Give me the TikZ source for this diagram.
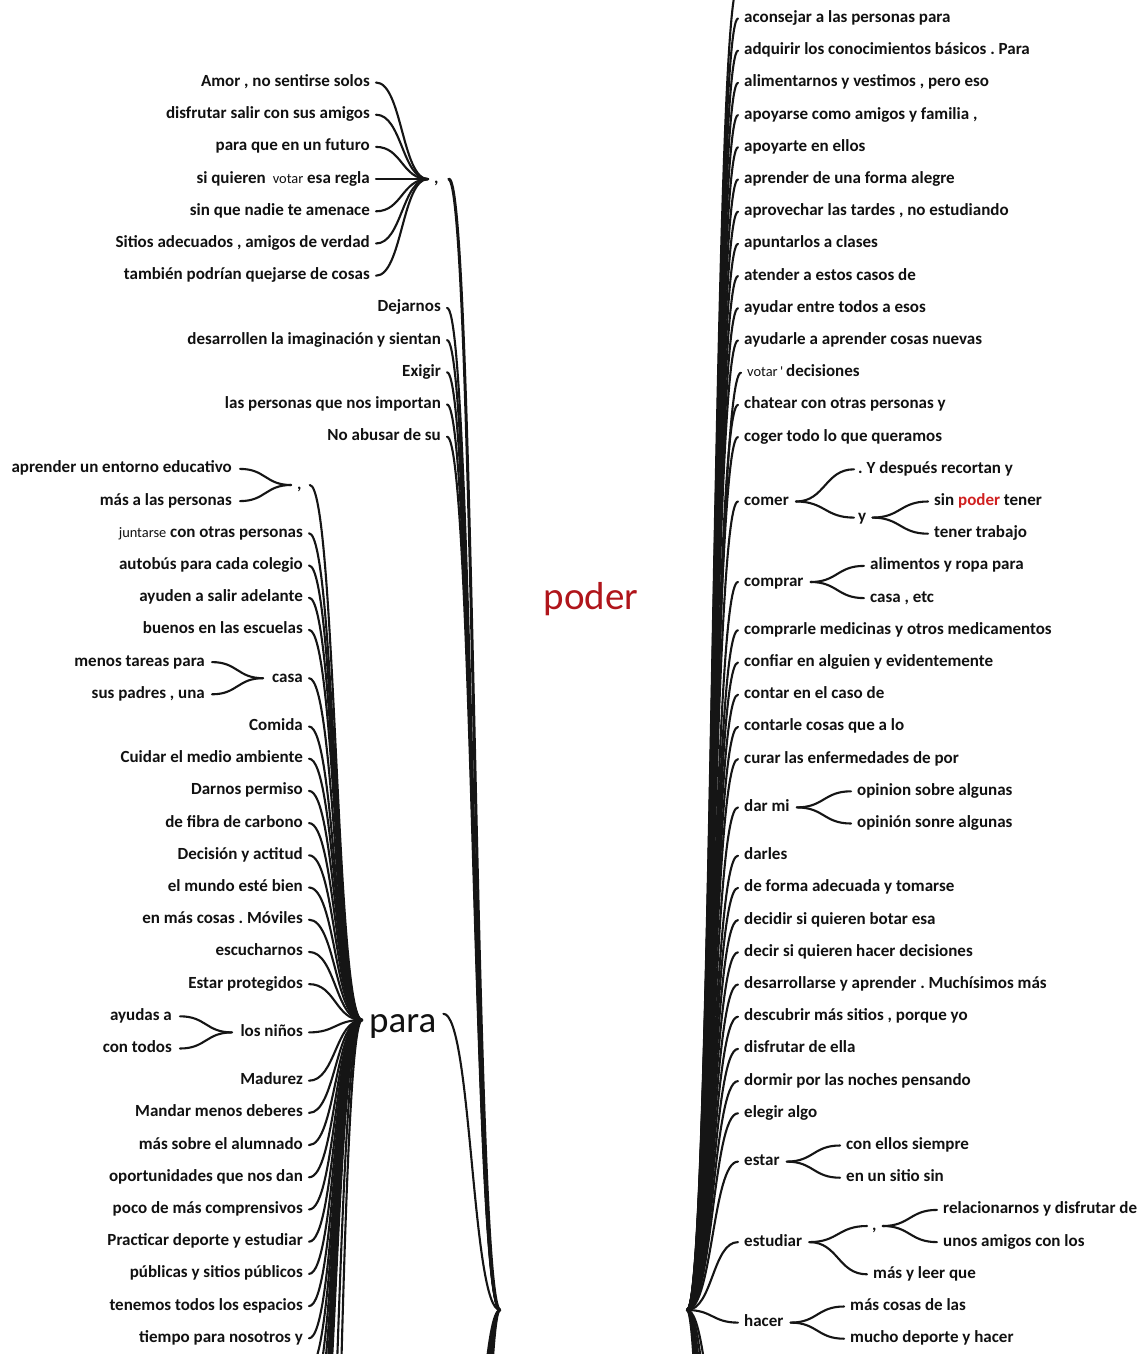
\documentclass[tikz,border=0pt]{standalone}
\usepackage{fontspec}
\usetikzlibrary{calc}
\newfontfamily\carl{Carlito}
\frenchspacing
\newcommand\wf{\carl\bfseries\fontsize{17}{20}\selectfont}
\newcommand\smf{\carl\mdseries\fontsize{14.4}{16}\selectfont}
\definecolor{ln}{HTML}{151515}
\definecolor{tx}{HTML}{111111}
\definecolor{pod}{HTML}{B0151B}
\definecolor{podb}{HTML}{D02020}
\newcommand\LY[1]{82.5+32.2*#1}
\newcommand\RY[1]{18.5+32.2*#1}
\newcommand\lk[3][]{\draw[lk,#1] let \p1=(#2), \p2=(#3), \n1={0.5*(\x1+\x2)} in (\p1) .. controls (\n1,\y1) and (\n1,\y2) .. (\p2);}
\tikzset{
  w/.style={inner sep=0pt, text height=12pt, text depth=4pt, font=\wf, text=tx},
  L/.style={w, anchor=east},
  R/.style={w, anchor=west},
  lk/.style={draw=ln, line width=2.1pt, line cap=round}
}
\begin{document}
\begin{tikzpicture}[x=1pt,y=-1pt]
\fill[white] (0,0) rectangle (1142,1354);
\clip (0,0) rectangle (1142,1354);

% ---------- junction coordinates ----------
\coordinate (rootL) at (500,1310);
\coordinate (rootR) at (687,1310);
\coordinate (j1) at (428,{\LY{3}});
\coordinate (j2) at (291,{\LY{12.5}});
\coordinate (j3) at (263,{\LY{18.5}});
\coordinate (j4) at (232,{\LY{29.5}});
\coordinate (jp) at (362,1020);

% ---------- centre label ----------
\node[anchor=base, inner sep=0pt, font=\carl\fontsize{39}{42}\selectfont, text=pod] (poder) at (591,609) {poder};

% ---------- left: group 1 ----------
\node[L] (l0) at (370,{\LY{0}}) {Amor , no sentirse solos};
\node[L] (l1) at (370,{\LY{1}}) {disfrutar salir con sus amigos};
\node[L] (l2) at (370,{\LY{2}}) {para que en un futuro};
\node[L] (l3) at (370,{\LY{3}}) {si quieren\hspace{7pt}{\smf votar} esa regla};
\node[L] (l4) at (370,{\LY{4}}) {sin que nadie te amenace};
\node[L] (l5) at (370,{\LY{5}}) {Sitios adecuados , amigos de verdad};
\node[L] (l6) at (370,{\LY{6}}) {también podrían quejarse de cosas};
\node[R] (c1) at (434,{\LY{3}}) {,};

% ---------- left: root children ----------
\node[L] (l7) at (441,{\LY{7}}) {Dejarnos};
\node[L] (l8) at (441,{\LY{8}}) {desarrollen la imaginación y sientan};
\node[L] (l9) at (441,{\LY{9}}) {Exigir};
\node[L] (l10) at (441,{\LY{10}}) {las personas que nos importan};
\node[L] (l11) at (441,{\LY{11}}) {No abusar de su};

% ---------- left: para subtree ----------
\node[L] (l12) at (232,{\LY{12}}) {aprender un entorno educativo};
\node[L] (l13) at (232,{\LY{13}}) {más a las personas};
\node[R] (c2) at (297,{\LY{12.5}}) {,};
\node[L] (l14) at (303,{\LY{14}}) {{\smf juntarse} con otras personas};
\node[L] (l15) at (303,{\LY{15}}) {autobús para cada colegio};
\node[L] (l16) at (303,{\LY{16}}) {ayuden a salir adelante};
\node[L] (l17) at (303,{\LY{17}}) {buenos en las escuelas};
\node[L] (l18) at (205,{\LY{18}}) {menos tareas para};
\node[L] (l19) at (205,{\LY{19}}) {sus padres , una};
\node[L] (casa) at (303,{\LY{18.5}}) {casa};
\node[L] (l20) at (303,{\LY{20}}) {Comida};
\node[L] (l21) at (303,{\LY{21}}) {Cuidar el medio ambiente};
\node[L] (l22) at (303,{\LY{22}}) {Darnos permiso};
\node[L] (l23) at (303,{\LY{23}}) {de fibra de carbono};
\node[L] (l24) at (303,{\LY{24}}) {Decisión y actitud};
\node[L] (l25) at (303,{\LY{25}}) {el mundo esté bien};
\node[L] (l26) at (303,{\LY{26}}) {en más cosas . Móviles};
\node[L] (l27) at (303,{\LY{27}}) {escucharnos};
\node[L] (l28) at (303,{\LY{28}}) {Estar protegidos};
\node[L] (l29) at (172,{\LY{29}}) {ayudas a};
\node[L] (l30) at (172,{\LY{30}}) {con todos};
\node[L] (ninos) at (303,{\LY{29.5}}) {los niños};
\node[L] (l31) at (303,{\LY{31}}) {Madurez};
\node[L] (l32) at (303,{\LY{32}}) {Mandar menos deberes};
\node[L] (l33) at (303,{\LY{33}}) {más sobre el alumnado};
\node[L] (l34) at (303,{\LY{34}}) {oportunidades que nos dan};
\node[L] (l35) at (303,{\LY{35}}) {poco de más comprensivos};
\node[L] (l36) at (303,{\LY{36}}) {Practicar deporte y estudiar};
\node[L] (l37) at (303,{\LY{37}}) {públicas y sitios públicos};
\node[L] (l38) at (303,{\LY{38}}) {tenemos todos los espacios};
\node[L] (l39) at (303,{\LY{39}}) {tiempo para nosotros y};
\node[anchor=base west, inner sep=0pt, font=\carl\fontsize{37}{40}\selectfont, text=tx] (para) at (369,1032) {para};

% ---------- right ----------
\node[R] (r0) at (744,{\RY{0}}) {aconsejar a las personas para};
\node[R] (r1) at (744,{\RY{1}}) {adquirir los conocimientos básicos . Para};
\node[R] (r2) at (744,{\RY{2}}) {alimentarnos y vestimos , pero eso};
\node[R] (r3) at (744,{\RY{3}}) {apoyarse como amigos y familia ,};
\node[R] (r4) at (744,{\RY{4}}) {apoyarte en ellos};
\node[R] (r5) at (744,{\RY{5}}) {aprender de una forma alegre};
\node[R] (r6) at (744,{\RY{6}}) {aprovechar las tardes , no estudiando};
\node[R] (r7) at (744,{\RY{7}}) {apuntarlos a clases};
\node[R] (r8) at (744,{\RY{8}}) {atender a estos casos de};
\node[R] (r9) at (744,{\RY{9}}) {ayudar entre todos a esos};
\node[R] (r10) at (744,{\RY{10}}) {ayudarle a aprender cosas nuevas};
\node[R] (r11) at (747,{\RY{11}}) {{\smf votar\,'}\,decisiones};
\node[R] (r12) at (744,{\RY{12}}) {chatear con otras personas y};
\node[R] (r13) at (744,{\RY{13}}) {coger todo lo que queramos};
\node[R] (comer) at (744,{\RY{15}}) {comer};
\node[R] (r14) at (858,{\RY{14}}) {. Y después recortan y};
\node[R] (yy) at (858,{\RY{15.5}}) {y};
\node[R] (r15) at (934,{\RY{15}}) {sin {\color{podb}poder} tener};
\node[R] (r16) at (934,{\RY{16}}) {tener trabajo};
\node[R] (comprar) at (744,{\RY{17.5}}) {comprar};
\node[R] (r17) at (870,{\RY{17}}) {alimentos y ropa para};
\node[R] (r18) at (870,{\RY{18}}) {casa , etc};
\node[R] (r19) at (744,{\RY{19}}) {comprarle medicinas y otros medicamentos};
\node[R] (r20) at (744,{\RY{20}}) {confiar en alguien y evidentemente};
\node[R] (r21) at (744,{\RY{21}}) {contar en el caso de};
\node[R] (r22) at (744,{\RY{22}}) {contarle cosas que a lo};
\node[R] (r23) at (744,{\RY{23}}) {curar las enfermedades de por};
\node[R] (darmi) at (744,{\RY{24.5}}) {dar mi};
\node[R] (r24) at (857,{\RY{24}}) {opinion sobre algunas};
\node[R] (r25) at (857,{\RY{25}}) {opinión sonre algunas};
\node[R] (r26) at (744,{\RY{26}}) {darles};
\node[R] (r27) at (744,{\RY{27}}) {de forma adecuada y tomarse};
\node[R] (r28) at (744,{\RY{28}}) {decidir si quieren botar esa};
\node[R] (r29) at (744,{\RY{29}}) {decir si quieren hacer decisiones};
\node[R] (r30) at (744,{\RY{30}}) {desarrollarse y aprender . Muchísimos más};
\node[R] (r31) at (744,{\RY{31}}) {descubrir más sitios , porque yo};
\node[R] (r32) at (744,{\RY{32}}) {disfrutar de ella};
\node[R] (r33) at (744,{\RY{33}}) {dormir por las noches pensando};
\node[R] (r34) at (744,{\RY{34}}) {elegir algo};
\node[R] (estar) at (744,{\RY{35.5}}) {estar};
\node[R] (r35) at (846,{\RY{35}}) {con ellos siempre};
\node[R] (r36) at (846,{\RY{36}}) {en un sitio sin};
\node[R] (estudiar) at (744,{\RY{38}}) {estudiar};
\node[R] (c3) at (872,{\RY{37.5}}) {,};
\node[R] (r37) at (943,{\RY{37}}) {relacionarnos y disfrutar de};
\node[R] (r38) at (943,{\RY{38}}) {unos amigos con los};
\node[R] (r39) at (873,{\RY{39}}) {más y leer que};
\node[R] (hacer) at (744,{\RY{40.5}}) {hacer};
\node[R] (r40) at (850,{\RY{40}}) {más cosas de las};
\node[R] (r41) at (850,{\RY{41}}) {mucho deporte y hacer};

% ---------- phantom ends (cropped part of the tree) ----------
\foreach \yv [count=\c] in {1368,1400,1432,1465,1497,1529,1561,1800,2200}
  {\coordinate (pa\c) at (309,\yv);}
\foreach \yv [count=\c] in {1800,1950,2150,2400,2700,3100}
  {\coordinate (pl\c) at (447,\yv);}
\foreach \yv [count=\c] in {-14,1560,1700,1900,2150,2450,2800,3300}
  {\coordinate (pr\c) at (738,\yv);}

% ---------- connectors: left ----------
\foreach \k in {l0,l1,l2,l3,l4,l5,l6} {\lk{[xshift=6pt]\k.east}{j1}}
\lk[line width=3pt]{[xshift=10pt]c1.east}{rootL}
\foreach \k in {l7,l8,l9,l10,l11} {\lk{[xshift=6pt]\k.east}{rootL}}
\foreach \k in {l12,l13} {\lk{[xshift=8pt]\k.east}{j2}}
\foreach \k in {l18,l19} {\lk{[xshift=7pt]\k.east}{j3}}
\foreach \k in {l29,l30} {\lk{[xshift=8pt]\k.east}{j4}}
\lk{[xshift=8pt]c2.east}{jp}
\foreach \k in {l14,l15,l16,l17,casa,l20,l21,l22,l23,l24,l25,l26,l27,l28,ninos,l31,l32,l33,l34,l35,l36,l37,l38,l39}
  {\lk{[xshift=6pt]\k.east}{jp}}
\foreach \c in {1,...,9} {\lk{pa\c}{jp}}
\lk{[xshift=7pt]para.north east}{rootL}
\foreach \c in {1,...,6} {\lk{rootL}{pl\c}}

% ---------- connectors: right ----------
\foreach \k in {r0,r1,r2,r3,r4,r5,r6,r7,r8,r9,r10,r11,r12,r13,comer,comprar,r19,r20,r21,r22,r23,darmi,r26,r27,r28,r29,r30,r31,r32,r33,r34,estar,estudiar,hacer}
  {\lk{rootR}{[xshift=-6pt]\k.west}}
\foreach \c in {1,...,8} {\lk{rootR}{pr\c}}
\lk{[xshift=7pt]comer.east}{[xshift=-4pt]r14.west}
\lk{[xshift=7pt]comer.east}{[xshift=-4pt]yy.west}
\lk{[xshift=6pt]yy.east}{[xshift=-6pt]r15.west}
\lk{[xshift=6pt]yy.east}{[xshift=-6pt]r16.west}
\lk{[xshift=7pt]comprar.east}{[xshift=-6pt]r17.west}
\lk{[xshift=7pt]comprar.east}{[xshift=-6pt]r18.west}
\lk{[xshift=7pt]darmi.east}{[xshift=-6pt]r24.west}
\lk{[xshift=7pt]darmi.east}{[xshift=-6pt]r25.west}
\lk{[xshift=7pt]estar.east}{[xshift=-6pt]r35.west}
\lk{[xshift=7pt]estar.east}{[xshift=-6pt]r36.west}
\lk{[xshift=7pt]estudiar.east}{[xshift=-5pt]c3.west}
\lk{[xshift=7pt]estudiar.east}{[xshift=-6pt]r39.west}
\lk{[xshift=6pt]c3.east}{[xshift=-6pt]r37.west}
\lk{[xshift=6pt]c3.east}{[xshift=-6pt]r38.west}
\lk{[xshift=7pt]hacer.east}{[xshift=-6pt]r40.west}
\lk{[xshift=7pt]hacer.east}{[xshift=-6pt]r41.west}
\end{tikzpicture}
\end{document}
